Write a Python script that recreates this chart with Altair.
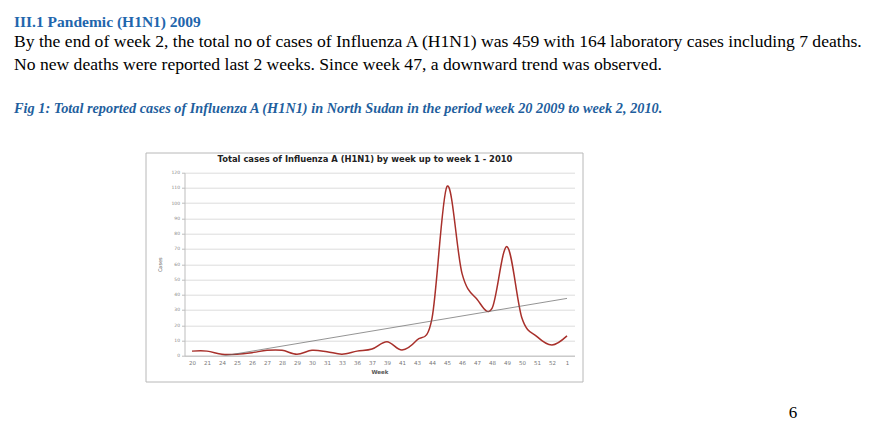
import altair as alt
import pandas as pd

weeks = ["20", "21", "24", "25", "26", "27", "28", "29", "30", "31", "33", "36", "37",
         "39", "41", "43", "44", "45", "46", "47", "48", "49", "50", "51", "52", "1"]
cases = [3, 3, 1, 1, 2, 3.5, 3.5, 1, 3.5, 2.6, 1, 3, 4.4,
         9.2, 3.7, 10.3, 24.5, 111, 54, 37, 31, 71.5, 24.5, 12.5, 7, 13]
y_ticks = list(range(0, 121, 10))

heading = "III.1 Pandemic (H1N1) 2009"
body1 = "By the end of week 2, the total no of cases of Influenza A (H1N1) was 459 with 164 laboratory cases including 7 deaths."
body2 = "No new deaths were reported last 2 weeks. Since week 47, a downward trend was observed."
caption = "Fig 1:  Total reported cases of Influenza A (H1N1) in North Sudan in the period week 20 2009 to week 2, 2010."
chart_title = "Total cases of Influenza A (H1N1) by week up to week 1 - 2010"
page_no = "6"

df = pd.DataFrame({"idx": list(range(len(weeks))), "week": weeks, "cases": cases})

label_expr = "[" + ",".join("'" + w + "'" for w in weeks) + "][datum.value]"

W, H = 390, 183
xscale = alt.Scale(domain=[-0.5, len(weeks) - 0.5], nice=False, zero=False)
yscale = alt.Scale(domain=[0, 120], nice=False)

xaxis = alt.Axis(values=list(range(len(weeks))), labelExpr=label_expr, grid=False,
                 labelOverlap=False, labelFlush=False, labelBound=False,
                 title="Week", titleFontSize=5.5, titleFontWeight="bold", titleColor="#555",
                 titleFont="DejaVu Sans", titlePadding=3,
                 labelFontSize=5.5, labelColor="#777", labelFont="DejaVu Sans",
                 tickSize=0, labelPadding=5, domainColor="#bdbdbd", domainWidth=1)
yaxis = alt.Axis(values=y_ticks, title="Cases", titleFontSize=5, titleColor="#555",
                 labelOverlap=False, labelFlush=False, labelBound=False,
                 titleFont="DejaVu Sans", titleFontWeight="normal", titlePadding=8,
                 labelFontSize=4.5, labelColor="#888", labelFont="DejaVu Sans",
                 tickSize=3, tickColor="#bdbdbd", labelPadding=2,
                 gridColor="#d4d4d4", gridWidth=0.8, domainColor="#bdbdbd")

xenc = alt.X("idx:Q", scale=xscale, axis=xaxis)
yenc = alt.Y("cases:Q", scale=yscale, axis=yaxis)

line = alt.Chart(df).mark_line(color="#a8302b", strokeWidth=1.5, interpolate="cardinal", tension=0,
                               clip=True).encode(x=xenc, y=yenc)
trend = alt.Chart(df).transform_regression("idx", "cases", extent=[0, len(weeks) - 1]).mark_line(
    color="#666", strokeWidth=0.7, clip=True).encode(x=xenc, y=yenc)

def txt(s, x, y, size, color="#000", weight="normal", style="normal", font="Liberation Serif", align="left"):
    return alt.Chart(pd.DataFrame({"t": [s]})).mark_text(
        align=align, baseline="alphabetic", fontSize=size, font=font, fontWeight=weight,
        fontStyle=style, color=color).encode(text="t:N", x=alt.value(x), y=alt.value(y))

ox, oy = 184.5, 172.7  # plot origin in page pixels
box = alt.Chart(pd.DataFrame({"a": [0]})).mark_rect(fillOpacity=0, stroke="#b8b8b8", strokeWidth=1).encode(
    x=alt.value(146 - ox), x2=alt.value(583 - ox), y=alt.value(153 - oy), y2=alt.value(382 - oy))

texts = [
    txt(heading, 14 - ox, 26.7 - oy, 15.5, color="#1f66ad", weight="bold"),
    txt(body1, 14 - ox, 46.7 - oy, 17.6),
    txt(body2, 14 - ox, 70 - oy, 17.6),
    txt(caption, 14 - ox, 113.3 - oy, 14.3, color="#1f5f9e", weight="bold", style="italic"),
    txt(chart_title, 365 - ox, 162 - oy, 8.4, color="#222", weight="bold", font="DejaVu Sans", align="center"),
    txt(page_no, 793 - ox, 418 - oy, 17, align="center"),
]

chart = alt.layer(line, trend, box, *texts).properties(
    width=W, height=H,
    autosize=alt.AutoSizeParams(type="none"),
    padding={"left": ox - 8, "top": oy - 8, "right": 872 - (ox - 8) - W, "bottom": 417 - (oy - 8) - H},
    background="white",
).configure_view(stroke=None)

chart.save("out.html", embed_options={"renderer": "svg", "actions": False})
